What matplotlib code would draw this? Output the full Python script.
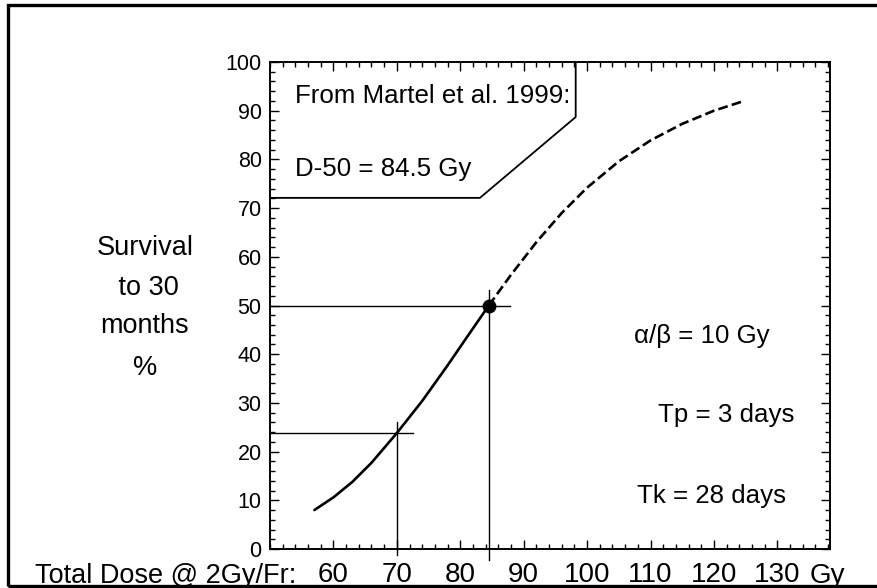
import numpy as np
import matplotlib.pyplot as plt
from matplotlib.patches import Rectangle
from matplotlib.ticker import MultipleLocator, FixedLocator

plt.rcParams['font.family'] = ['Liberation Sans', 'DejaVu Sans']

# ── Data (Martel et al. 1999 dose-response) ───────────────────────────────────
dose_fit = [57, 60, 63, 66, 70, 74, 78, 81, 84.5]          # Gy, solid part
surv_fit = [8.0, 10.6, 13.8, 17.7, 23.8, 30.4, 37.7, 43.4, 50.0]
dose_ext = [84.5, 88, 92, 96, 100, 105, 110, 115, 120, 124.5]  # Gy, dashed part
surv_ext = [50.0, 56.3, 63.0, 69.0, 74.2, 79.6, 83.9, 87.3, 90.0, 91.9]

d50, s50 = 84.5, 50.0       # D-50 point
d70, s70 = 70.0, 23.8       # survival at 70 Gy

xticks = [60, 70, 80, 90, 100, 110, 120, 130]
yticks = [0, 10, 20, 30, 40, 50, 60, 70, 80, 90, 100]

# annotation box outline (data coords)
box_x = [50, 83.1, 98.2, 98.2]
box_y = [72.1, 72.1, 88.7, 100]

W, H = 878, 588
fig = plt.figure(figsize=(W / 100, H / 100), dpi=100)
ax = fig.add_axes([270 / W, 1 - 549 / H, (830 - 270) / W, (549 - 62) / H])

ax.plot(dose_fit, surv_fit, color='black', lw=1.9, solid_capstyle='round')
ax.plot(dose_ext, surv_ext, color='black', lw=1.9, linestyle='--')
ax.plot(d50, s50, 'o', color='black', markersize=9, zorder=5)

# crosshairs
ax.plot([50, 87.9], [s50, s50], color='black', lw=1.0)
ax.plot([d50, d50], [-2.3, 53.2], color='black', lw=1.0, clip_on=False)
ax.plot([50, 72.6], [s70, s70], color='black', lw=1.0)
ax.plot([d70, d70], [-1.2, 26.1], color='black', lw=1.0, clip_on=False)

# annotation box
ax.plot(box_x, box_y, color='black', lw=1.3)
ax.text(53.9, 91.5, 'From Martel et al. 1999:', fontsize=18.6, va='baseline')
ax.text(53.9, 76.5, 'D-50 = 84.5 Gy', fontsize=18.6, va='baseline')

# parameters
ax.text(128.8, 42.3, 'α/β = 10 Gy', fontsize=18.6, ha='right', va='baseline')
ax.text(132.7, 26.0, 'Tp = 3 days', fontsize=18.6, ha='right', va='baseline')
ax.text(131.3, 9.5, 'Tk = 28 days', fontsize=18.6, ha='right', va='baseline')

ax.set_xlim(50, 138.3)
ax.set_ylim(0, 100)
ax.xaxis.set_major_locator(FixedLocator(xticks))
ax.xaxis.set_minor_locator(MultipleLocator(2))
ax.yaxis.set_major_locator(FixedLocator(yticks))
ax.yaxis.set_minor_locator(MultipleLocator(2))
ax.tick_params(which='both', direction='in', top=True, right=True, width=1.0)
ax.tick_params(which='major', length=6.5)
ax.tick_params(which='minor', length=3.5)
ax.tick_params(axis='x', labelsize=20, pad=9.5)
ax.tick_params(axis='y', labelsize=15.5, pad=6)
for s in ax.spines.values():
    s.set_linewidth(1.4)

# axis titles as free text
fig.text(35 / W, 1 - 583 / H, 'Total Dose @ 2Gy/Fr:', fontsize=19.5, va='baseline')
fig.text(810 / W, 1 - 583 / H, 'Gy', fontsize=20, va='baseline')
ylab = ['Survival', ' to 30', 'months', '%']
ylab_base = [255, 295, 333, 375]
for t, yb in zip(ylab, ylab_base):
    fig.text(145 / W, 1 - yb / H, t, fontsize=19.5, ha='center', va='baseline')

# scanned page frame
fig.patches.append(Rectangle((8 / W, 1 - 585.5 / H), 1.0, (585.5 - 5) / H,
                             transform=fig.transFigure, fill=False,
                             edgecolor='black', lw=2.4))

plt.savefig('out.png', dpi=100)
plt.close()
